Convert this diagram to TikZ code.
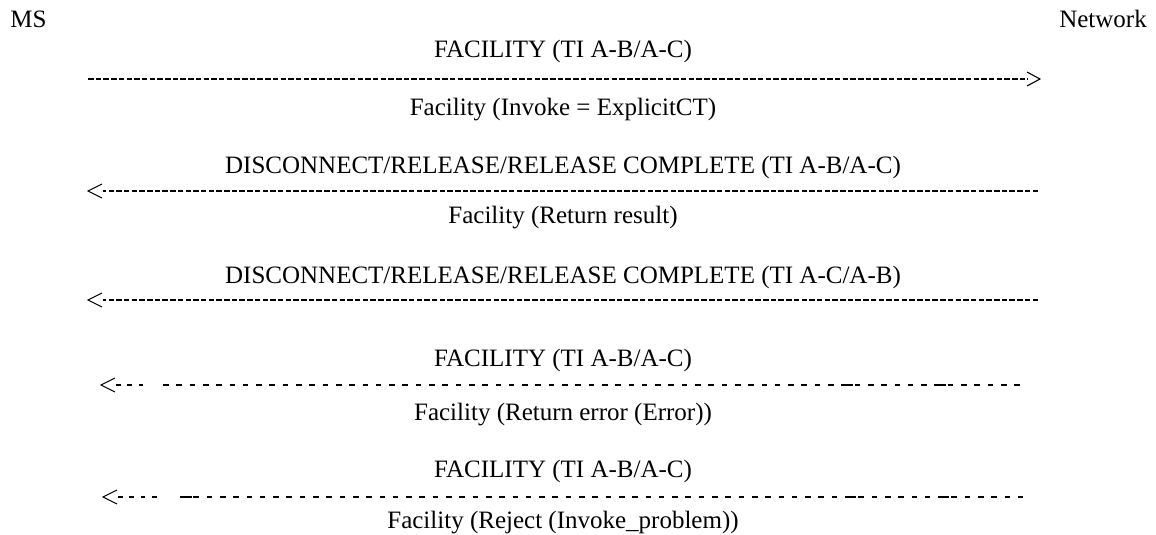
\documentclass[tikz,border=0pt]{standalone}
\usepackage{fontspec}
\setmainfont{Liberation Serif}
\usetikzlibrary{calc}
\begin{document}
\begin{tikzpicture}[x=1pt,y=-1pt,
  lbl/.style={font=\fontsize{25}{30}\selectfont, inner sep=0pt, anchor=base},
  dense/.style={line width=1.7pt, dash pattern=on 5.5pt off 2.2pt},
  sparseA/.style={line width=1.7pt, dash pattern=on 4.6pt off 6.8pt},
  sparseB/.style={line width=1.7pt, dash pattern=on 5.6pt off 7.7pt},
  fill2/.style={line width=1.7pt},
  head/.style={line width=1.1pt, line join=miter},
]
\useasboundingbox[fill=white] (0,0) rectangle (1156,535);

% participants
\node[lbl] (ms) at (28.5,28) {MS};
\node[lbl] (nw) at (1103,28) {Network};

% labels
\node[lbl] (m1) at (563,57)  {FACILITY (TI A-B/A-C)};
\node[lbl] (p1) at (563,115) {Facility (Invoke = ExplicitCT)};
\node[lbl] (m2) at (563,173) {DISCONNECT/RELEASE/RELEASE COMPLETE (TI A-B/A-C)};
\node[lbl] (p2) at (563,223) {Facility (Return result)};
\node[lbl] (m3) at (563,283) {DISCONNECT/RELEASE/RELEASE COMPLETE (TI A-C/A-B)};
\node[lbl] (m4) at (563,366) {FACILITY (TI A-B/A-C)};
\node[lbl] (p4) at (563,420) {Facility (Return error (Error))};
\node[lbl] (m5) at (563,477) {FACILITY (TI A-B/A-C)};
\node[lbl] (p5) at (563,528) {Facility (Reject (Invoke\_problem))};

% arrow end points (t = tip vertex, b = where the dashes meet the tip)
\coordinate (a1s) at (88,79);    \coordinate (a1b) at (1028,79);  \coordinate (a1t) at (1040,79);
\coordinate (a2s) at (1038,191); \coordinate (a2b) at (103,191);  \coordinate (a2t) at (88,191);
\coordinate (a3s) at (1038,300); \coordinate (a3b) at (103,300);  \coordinate (a3t) at (88,300);
\coordinate (a4t) at (101,385);  \coordinate (a4b) at (116,385);  \coordinate (a4m) at (143.5,385);
\coordinate (a4n) at (163,385);  \coordinate (a4e) at (1027,385);
\coordinate (a5t) at (103,497);  \coordinate (a5b) at (118,497);  \coordinate (a5m) at (158.5,497);
\coordinate (a5n) at (180,497);  \coordinate (a5e) at (1023,497);

% message 1: MS -> Network
\draw[dense] (a1s) -- (a1b);
\draw[head] ($(a1t)+(-13,-7)$) -- (a1t) -- ($(a1t)+(-13,7)$);

% message 2, 3: Network -> MS
\draw[dense] (a2s) -- (a2b);
\draw[head] ($(a2t)+(14,-7)$) -- (a2t) -- ($(a2t)+(14,7)$);
\draw[dense] (a3s) -- (a3b);
\draw[head] ($(a3t)+(14,-7)$) -- (a3t) -- ($(a3t)+(14,7)$);

% message 4
\draw[head] ($(a4t)+(14,-7)$) -- (a4t) -- ($(a4t)+(14,7)$);
\draw[sparseA] (a4b) -- (a4m);
\draw[sparseB] (a4n) -- (a4e);
\draw[fill2] (841.3,385) -- (852.5,385);
\draw[fill2] (934.4,385) -- (945.6,385);

% message 5
\draw[head] ($(a5t)+(14,-7)$) -- (a5t) -- ($(a5t)+(14,7)$);
\draw[sparseA] (a5b) -- (a5m);
\draw[sparseB] (a5n) -- (a5e);
\draw[fill2] (180,497) -- (191.5,497);
\draw[fill2] (845,497) -- (856.2,497);
\draw[fill2] (938.1,497) -- (949.3,497);
\end{tikzpicture}
\end{document}
